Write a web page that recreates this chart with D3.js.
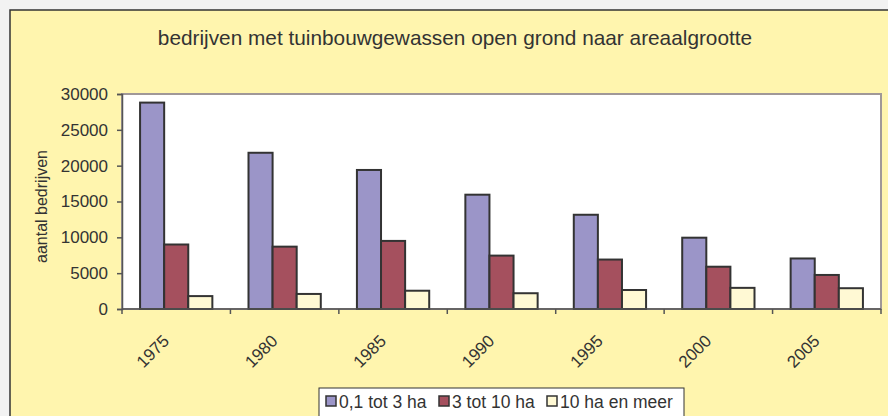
<!DOCTYPE html>
<html>
<head>
<meta charset="utf-8">
<script src="https://cdn.jsdelivr.net/npm/d3@7"></script>
<style>
	body { margin: 0; background: #f2f2f2; }
	svg text { font-family: "Liberation Sans", Arial, sans-serif; fill: #333; }
</style>
</head>
<body>
<div id="chart"></div>
<script>
var years    = ["1975", "1980", "1985", "1990", "1995", "2000", "2005"]
var small    = [28800, 21800, 19400, 15950, 13150, 9950, 7050]   // 0,1 tot 3 ha
var medium   = [9000, 8700, 9500, 7450, 6900, 5900, 4750]        // 3 tot 10 ha
var large    = [1800, 2100, 2550, 2200, 2650, 2950, 2900]        // 10 ha en meer
var seriesNames = ["0,1 tot 3 ha", "3 tot 10 ha", "10 ha en meer"]
var yTicks   = [0, 5000, 10000, 15000, 20000, 25000, 30000]

var cPurple = "#9b95c8",
	cRed    = "#a5505e",
	cCream  = "#fff9d4",
	cBack   = "#fff5ae";

var w = 888, h = 416,
	plot = {left: 122, right: 881, top: 94, bottom: 309}

var svg = d3.select("#chart")
			.append("svg")
			.attr("width", w)
			.attr("height", h)

// chart area
svg.append("rect")
	.attr("x", 10).attr("y", 10)
	.attr("width", w).attr("height", h)
	.attr("fill", cBack)
	.attr("stroke", "#333")
	.attr("stroke-width", 1.5)

svg.append("text")
	.attr("x", 455)
	.attr("y", 45)
	.attr("text-anchor", "middle")
	.attr("font-size", 20.8)
	.text("bedrijven met tuinbouwgewassen open grond naar areaalgrootte")

// plot area
svg.append("rect")
	.attr("x", plot.left).attr("y", plot.top)
	.attr("width", plot.right - plot.left)
	.attr("height", plot.bottom - plot.top)
	.attr("fill", "white")
	.attr("stroke", "#a09898")
	.attr("stroke-width", 2)

// group width = 3 bars, gap = 1.5 bar (Excel gap width 150)
var x = d3.scaleBand()
		.domain(years)
		.range([plot.left, plot.right])
		.paddingInner(1/3)
		.paddingOuter(1/6)

var x1 = d3.scaleBand()
		.domain(seriesNames)
		.range([0, x.bandwidth()])

var y = d3.scaleLinear()
		.domain([0, 30000])
		.range([plot.bottom, plot.top])

// bars
var seriesData = [small, medium, large]
var colors = [cPurple, cRed, cCream]
var step = x.step()

seriesData.forEach(function(vals, s){
	svg.selectAll(".bar" + s)
		.data(vals)
		.enter()
		.append("rect")
		.attr("class", "bar" + s)
		.attr("x", function(d,i){ return x(years[i]) + x1(seriesNames[s]) })
		.attr("y", function(d){ return y(d) })
		.attr("width", x1.bandwidth())
		.attr("height", function(d){ return plot.bottom - y(d) })
		.attr("fill", colors[s])
		.attr("stroke", "#333")
		.attr("stroke-width", 2)
})

// y axis
var yAxis = svg.append("g")
	.attr("transform", "translate(" + plot.left + ",0)")
	.call(d3.axisLeft(y).tickValues(yTicks).tickSize(5).tickPadding(9).tickFormat(d3.format("d")))
yAxis.select(".domain").attr("stroke", "#555").attr("stroke-width", 1.5)
yAxis.selectAll("line").attr("stroke", "#555").attr("stroke-width", 1.5)
yAxis.selectAll("text").attr("font-size", 17).attr("fill", "#333").attr("font-family", "Liberation Sans, Arial, sans-serif")

// x axis line and boundary ticks
svg.append("line")
	.attr("x1", plot.left).attr("x2", plot.right)
	.attr("y1", plot.bottom).attr("y2", plot.bottom)
	.attr("stroke", "#555").attr("stroke-width", 1.5)

svg.selectAll(".xtick")
	.data(d3.range(years.length + 1))
	.enter()
	.append("line")
	.attr("x1", function(i){ return plot.left + step*i })
	.attr("x2", function(i){ return plot.left + step*i })
	.attr("y1", plot.bottom).attr("y2", plot.bottom + 5)
	.attr("stroke", "#555").attr("stroke-width", 1.5)

svg.selectAll(".xlabel")
	.data(years)
	.enter()
	.append("text")
	.attr("class", "xlabel")
	.attr("text-anchor", "end")
	.attr("font-size", 17)
	.attr("transform", function(d){
		var cx = x(d) + x.bandwidth()/2
		return "translate(" + (cx - 6) + "," + (plot.bottom + 33) + ") rotate(-45)"
	})
	.text(function(d){ return d })

// y axis title
svg.append("text")
	.attr("transform", "translate(47," + ((plot.top + plot.bottom)/2 + 5) + ") rotate(-90)")
	.attr("text-anchor", "middle")
	.attr("font-size", 16)
	.text("aantal bedrijven")

// legend
var legend = svg.append("g").attr("transform", "translate(319,388)")
legend.append("rect")
	.attr("width", 365).attr("height", 40)
	.attr("fill", "white")
	.attr("stroke", "#333").attr("stroke-width", 1)

var legendX = [7, 120, 228]
seriesNames.forEach(function(name, s){
	var g = legend.append("g").attr("transform", "translate(" + legendX[s] + ",0)")
	g.append("rect")
		.attr("x", 0).attr("y", 8)
		.attr("width", 10).attr("height", 10)
		.attr("fill", colors[s])
		.attr("stroke", "#333").attr("stroke-width", 1.5)
	g.append("text")
		.attr("x", 13).attr("y", 19.5)
		.attr("font-size", 17.5)
		.text(name)
})
</script>
</body>
</html>
